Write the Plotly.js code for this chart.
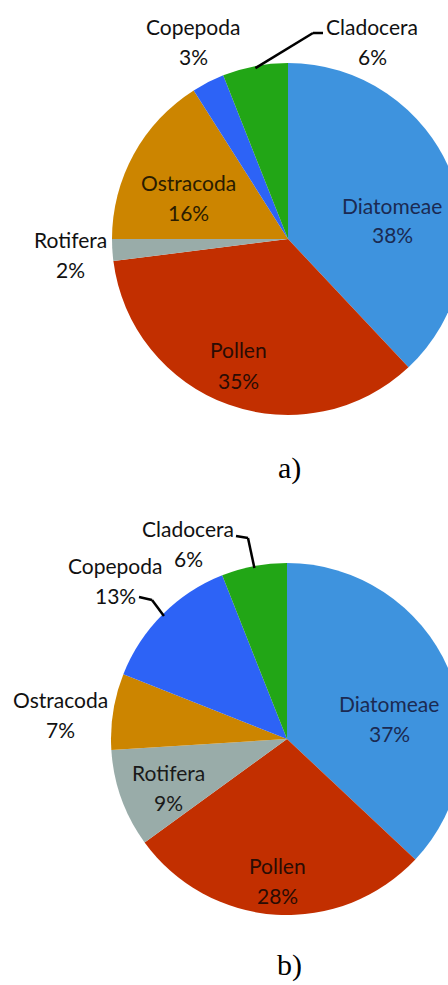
<!DOCTYPE html>
<html>
<head>
<meta charset="utf-8">
<script src="https://cdn.plot.ly/plotly-3.0.1.min.js"></script>
<style>
html, body { margin: 0; padding: 0; overflow: hidden; background: #fff; }
#chart { width: 576px; height: 985px; }
</style>
</head>
<body>
<div id="chart"></div>
<script>
// Data
const categories = ['Diatomeae', 'Pollen', 'Rotifera', 'Ostracoda', 'Copepoda', 'Cladocera'];
const valuesA = [38, 35, 2, 16, 3, 6];
const valuesB = [37, 28, 9, 7, 13, 6];
const captions = ['a)', 'b)'];

// Styles
const sliceColors = ['#3e93de', '#c22f00', '#99aca9', '#cc8500', '#2d63f6', '#22a616'];
const textColorsA = ['#1b2a52', '#2a0c04', '#111111', '#2a1c00', '#111111', '#111111'];
const textColorsB = ['#1b2a52', '#2a0c04', '#1a1a1a', '#111111', '#111111', '#111111'];

// Layout (pixel positions of label blocks, pie centres)
const H = 985, W = 576, R = 176;
const centerA = [288, 239], centerB = [287, 739];
const labelPosA = [[392, 220], [238, 365], [70, 254], [188, 198], [193, 42], [372, 42]];
const labelPosB = [[389, 718], [277, 880], [168, 787], [60, 714], [115, 580], [188, 543]];
// leader lines: [slice index, elbow point, end point]
const leadersA = [[5, [313, 33], [323, 33]]];
const leadersB = [[5, [248, 538], [236, 536]], [4, [152, 600], [139, 597]]];
const captionPos = [[289, 468], [289, 965]];

const px = x => x / W;
const py = y => 1 - y / H;

function domainFor(c) {
  return { x: [px(c[0] - R), px(c[0] + R)], y: [py(c[1] + R), py(c[1] - R)] };
}

function pieTrace(values, c) {
  return {
    type: 'pie',
    labels: categories,
    values: values,
    sort: false,
    direction: 'clockwise',
    rotation: 0,
    domain: domainFor(c),
    marker: { colors: sliceColors, line: { width: 0 } },
    textinfo: 'none',
    showlegend: false,
    hoverinfo: 'skip'
  };
}

function labelAnnotations(values, pos, colors) {
  const total = values.reduce((a, b) => a + b, 0);
  const out = [];
  categories.forEach((cat, i) => {
    const pct = Math.round(values[i] / total * 100) + '%';
    const font = { family: 'Lato, sans-serif', size: 21, color: colors[i] };
    out.push({ text: cat, x: px(pos[i][0]), y: py(pos[i][1] - 15), xref: 'paper', yref: 'paper',
      showarrow: false, xanchor: 'center', yanchor: 'middle', font: font });
    out.push({ text: pct, x: px(pos[i][0]), y: py(pos[i][1] + 15), xref: 'paper', yref: 'paper',
      showarrow: false, xanchor: 'center', yanchor: 'middle', font: font });
  });
  return out;
}

function edgePoint(values, idx, c) {
  const total = values.reduce((a, b) => a + b, 0);
  let cum = 0;
  for (let k = 0; k < idx; k++) cum += values[k];
  cum += values[idx] / 2;
  const th = cum / total * 2 * Math.PI;
  const r = R - 2;
  return [c[0] + r * Math.sin(th), c[1] - r * Math.cos(th)];
}

function leaderShapes(values, leaders, c) {
  const shapes = [];
  leaders.forEach(([idx, elbow, end]) => {
    const s = edgePoint(values, idx, c);
    const line = { color: '#000000', width: 2.5 };
    shapes.push({ type: 'line', xref: 'paper', yref: 'paper',
      x0: px(s[0]), y0: py(s[1]), x1: px(elbow[0]), y1: py(elbow[1]), line: line });
    shapes.push({ type: 'line', xref: 'paper', yref: 'paper',
      x0: px(elbow[0]), y0: py(elbow[1]), x1: px(end[0]), y1: py(end[1]), line: line });
  });
  return shapes;
}

const data = [pieTrace(valuesA, centerA), pieTrace(valuesB, centerB)];

const captionAnns = captions.map((t, i) => ({
  text: t, x: px(captionPos[i][0]), y: py(captionPos[i][1]), xref: 'paper', yref: 'paper',
  showarrow: false, xanchor: 'center', yanchor: 'middle',
  font: { family: 'Liberation Serif, serif', size: 30, color: '#000' }
}));

const layout = {
  width: W,
  height: H,
  margin: { l: 0, r: 0, t: 0, b: 0 },
  paper_bgcolor: '#ffffff',
  showlegend: false,
  annotations: labelAnnotations(valuesA, labelPosA, textColorsA)
    .concat(labelAnnotations(valuesB, labelPosB, textColorsB))
    .concat(captionAnns),
  shapes: leaderShapes(valuesA, leadersA, centerA).concat(leaderShapes(valuesB, leadersB, centerB))
};

Plotly.newPlot('chart', data, layout, { staticPlot: true, displayModeBar: false });
</script>
</body>
</html>
